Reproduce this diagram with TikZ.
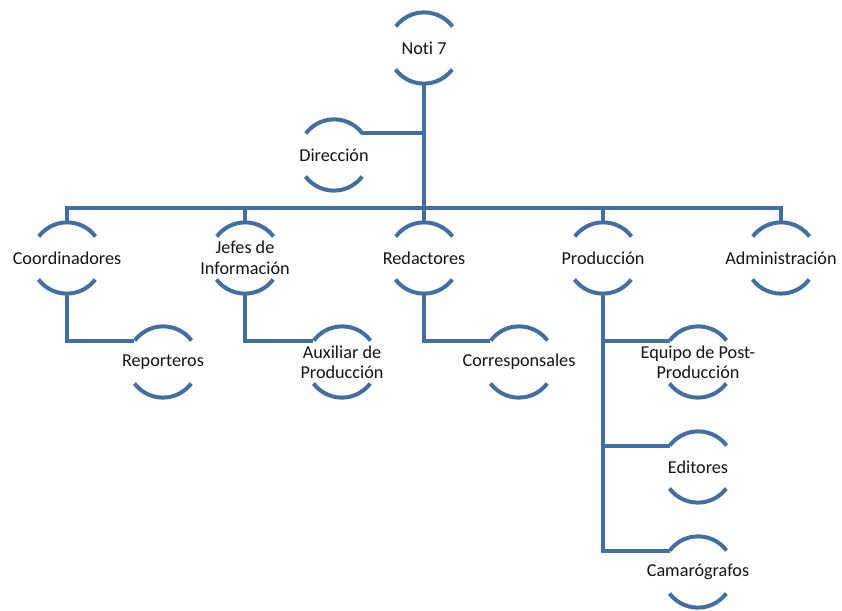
\documentclass[tikz,border=0pt]{standalone}
\usepackage{fontspec}
\setmainfont[Ligatures={NoCommon}]{Carlito}
\definecolor{lineblue}{RGB}{66,110,160}
\definecolor{txtc}{RGB}{20,20,20}
\begin{document}
\begin{tikzpicture}[x=1pt,y=1pt,
  cnode/.style={circle,minimum size=71pt,inner sep=0pt,draw=none},
  ctext/.style={align=center,inner sep=0pt,text=txtc,font=\fontsize{18.2}{20.5}\selectfont},
  ringarc/.style={draw=lineblue,line width=4pt},
  conn/.style={draw=lineblue,line width=4pt,line join=miter}]
\useasboundingbox (0,0) rectangle (842,610);
% circles (invisible shapes)
\node[cnode] (noti) at (424,562) {};
\node[cnode] (dir) at (334,455) {};
\node[cnode] (coord) at (67,352) {};
\node[cnode] (jefes) at (245,352) {};
\node[cnode] (red) at (424,352) {};
\node[cnode] (prod) at (603,352) {};
\node[cnode] (adm) at (781,352) {};
\node[cnode] (rep) at (163,248) {};
\node[cnode] (aux) at (342,248) {};
\node[cnode] (corr) at (519,248) {};
\node[cnode] (equipo) at (698,248) {};
\node[cnode] (edit) at (698,143) {};
\node[cnode] (cam) at (698,38) {};
% texts
\node[ctext] (noti-t) at (noti) {Noti 7};
\node[ctext] (dir-t) at (dir) {Dirección};
\node[ctext] (coord-t) at (coord) {Coordinadores};
\node[ctext] (jefes-t) at (jefes) {Jefes de\\Información};
\node[ctext] (red-t) at (red) {Redactores};
\node[ctext] (prod-t) at (prod) {Producción};
\node[ctext] (adm-t) at (adm) {Administración};
\node[ctext] (rep-t) at (rep) {Reporteros};
\node[ctext] (aux-t) at (aux) {Auxiliar de\\Producción};
\node[ctext] (corr-t) at (corr) {Corresponsales};
\node[ctext] (equipo-t) at (equipo) {Equipo de Post-\\Producción};
\node[ctext] (edit-t) at (edit) {Editores};
\node[ctext] (cam-t) at (cam) {Camarógrafos};
% arcs
\foreach \n in {noti,dir,coord,jefes,red,prod,adm,rep,aux,corr,equipo,edit,cam}{
  \path[ringarc] (\n.37) arc[start angle=37,end angle=143,radius=35.5pt];
  \path[ringarc] (\n.217) arc[start angle=217,end angle=323,radius=35.5pt];
}
% connectors
\coordinate (bus) at (424,402);
\path[conn] (noti.south) -- (bus);
\path[conn] (coord.north) -- (coord.north |- bus) -- (adm.north |- bus) -- (adm.north);
\path[conn] (jefes.north) -- (jefes.north |- bus);
\path[conn] (red.north) -- (red.north |- bus);
\path[conn] (prod.north) -- (prod.north |- bus);
\path[conn] (dir.39) -- (dir.39 -| noti.south);
\path[conn] (coord.south) |- (rep.143);
\path[conn] (jefes.south) |- (aux.143);
\path[conn] (red.south) |- (corr.143);
\path[conn] (prod.south) |- (equipo.143);
\path[conn] (prod.south) |- (edit.143);
\path[conn] (prod.south) |- (cam.143);
\end{tikzpicture}
\end{document}
